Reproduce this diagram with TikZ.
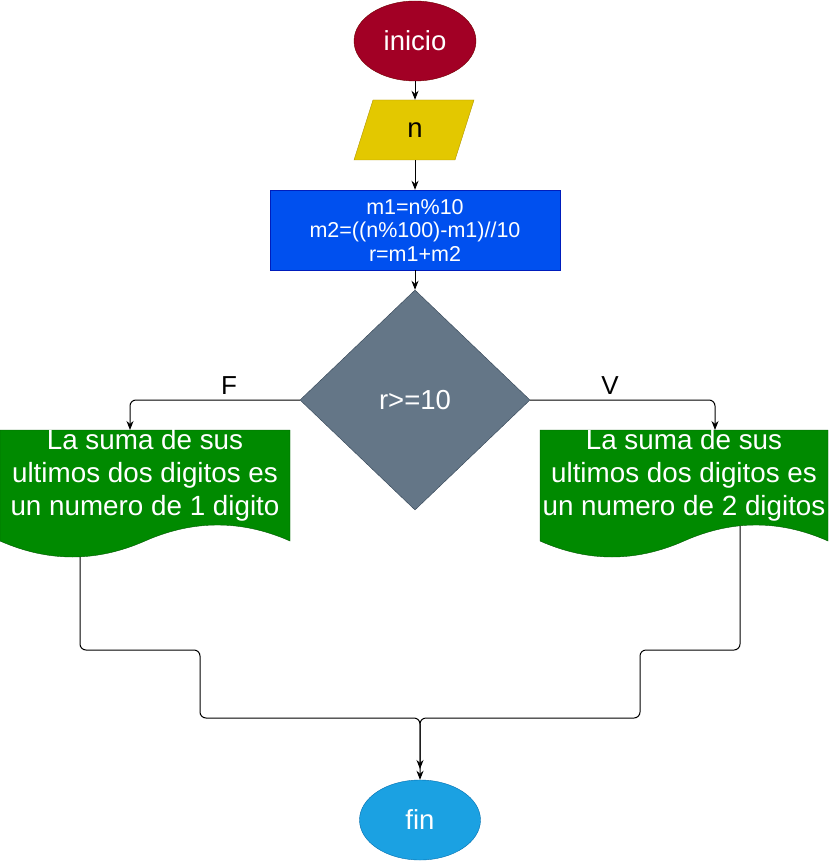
\documentclass[tikz,border=0pt]{standalone}
\usepackage{fontspec}
\setmainfont{Liberation Sans}
\usetikzlibrary{shapes.geometric,arrows.meta}
\definecolor{crim}{HTML}{A20025}\definecolor{crimS}{HTML}{6F0000}
\definecolor{yel}{HTML}{E3C800}\definecolor{yelS}{HTML}{B09500}
\definecolor{blu}{HTML}{0050EF}\definecolor{bluS}{HTML}{001DBC}
\definecolor{slate}{HTML}{647687}\definecolor{slateS}{HTML}{314354}
\definecolor{grn}{HTML}{008A00}\definecolor{grnS}{HTML}{005700}
\definecolor{cyanf}{HTML}{1BA1E2}\definecolor{cyanS}{HTML}{006EAF}
\tikzset{
  conn/.style={draw=black, line width=1pt, rounded corners=6pt},
  arr/.style={-{Stealth[length=9pt,width=7pt]}},
  bigtxt/.style={font=\fontsize{27.5}{32}\selectfont, text=white},
  doctxt/.style={font=\fontsize{27.8}{33}\selectfont, text=white, align=center},
}
\begin{document}
\begin{tikzpicture}[x=1pt,y=-1pt]
\useasboundingbox (0,0) rectangle (828,861);
% inicio
\node[ellipse, fill=crim, draw=crimS, minimum width=122, minimum height=80, inner sep=0, bigtxt] (ini) at (415,41) {inicio};
% n
\draw[fill=yel, draw=yelS] (373,100) -- (474,100) -- (455,160) -- (354,160) -- cycle;
\node[minimum width=100, minimum height=60, inner sep=0, font=\fontsize{27.5}{32}\selectfont] (n) at (415,130) {n};
% process
\node[rectangle, fill=blu, draw=bluS, minimum width=290, minimum height=80, inner sep=0, text=white, align=center, font=\fontsize{21.5}{23.5}\selectfont] (p) at (415,230) {m1=n\%10\\m2=((n\%100)-m1)//10\\r=m1+m2};
% decision
\node[diamond, fill=slate, draw=slateS, minimum width=230, minimum height=220, inner sep=0, bigtxt] (d) at (415,400) {r>=10};
% documents
\draw[fill=grn, draw=grnS] (0,430) -- (290,430) -- (290,541)
  .. controls (241.67,519.67) and (193.33,519.67) .. (145,541)
  .. controls (96.67,562.33) and (48.33,562.33) .. (0,541) -- cycle;
\node[doctxt] (doc1) at (145,475) {La suma de sus\\ultimos dos digitos es\\un numero de 1 digito};
\coordinate (d1in) at (130,430);
\coordinate (d1out) at (80,557);
\draw[fill=grn, draw=grnS] (540,430) -- (828,430) -- (828,541)
  .. controls (780,519.67) and (732,519.67) .. (684,541)
  .. controls (636,562.33) and (588,562.33) .. (540,541) -- cycle;
\node[doctxt] (doc2) at (684,475) {La suma de sus\\ultimos dos digitos es\\un numero de 2 digitos};
\coordinate (d2in) at (715,430);
\coordinate (d2out) at (740,526);
% fin
\node[ellipse, fill=cyanf, draw=cyanS, minimum width=121, minimum height=80, inner sep=0, bigtxt] (fin) at (420,820) {fin};
\coordinate (finup) at (420,769);
% connectors
\draw[conn, arr] (ini.south) -- (n.north);
\draw[conn, arr] (n.south) -- (p.north);
\draw[conn, arr] (p.south) -- (d.north);
\draw[conn, arr] (d.west) -| (d1in);
\draw[conn, arr] (d.east) -| (d2in);
\node[font=\fontsize{26}{30}\selectfont] (lf) at (229,386) {F};
\node[font=\fontsize{26}{30}\selectfont] (lv) at (610,386) {V};
\draw[conn, arr] (d1out) -- (80,650) -- (200,650) -- (200,718) -- (420,718) -- (fin.north);
\draw[conn, arr] (d2out) -- (740,650) -- (640,650) -- (640,718) -- (420,718) -- (finup);
\end{tikzpicture}
\end{document}
